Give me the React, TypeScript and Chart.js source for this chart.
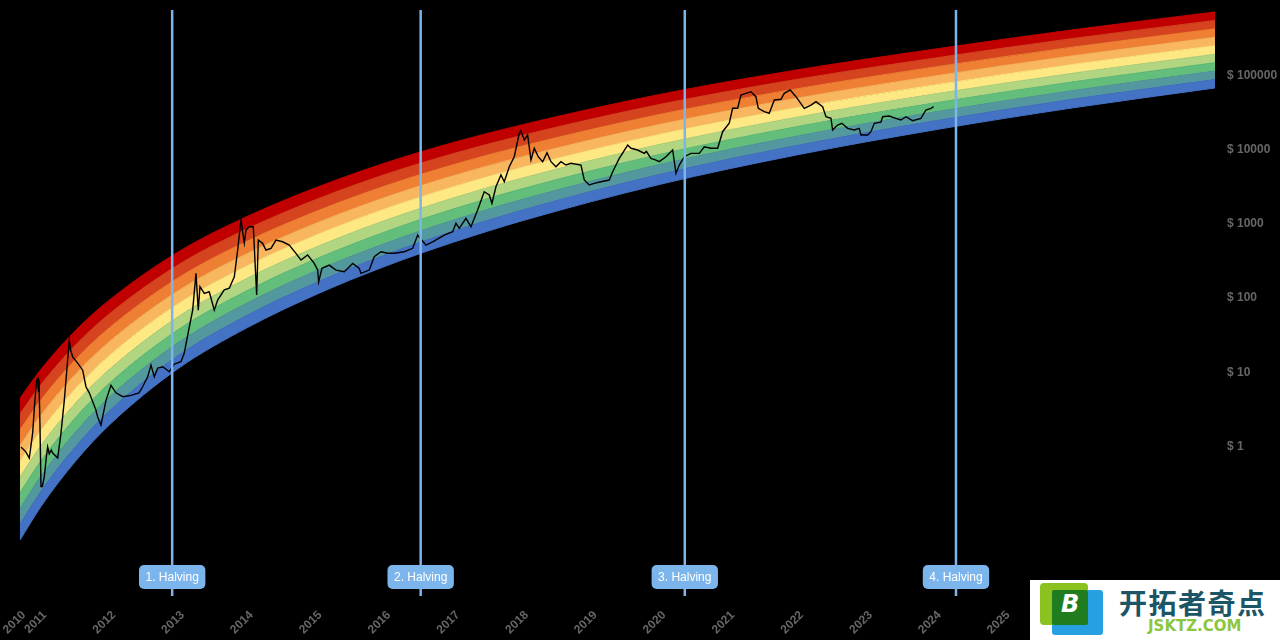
import React, { useEffect, useRef } from 'react';
import { Chart, registerables } from 'chart.js';

Chart.register(...registerables);

// ---- axes ----
const xMin = 2010.695;
const xMax = 2028.065;
const yMin = 0.0097;
const yMax = 763000;
const firstTickLabel = '2010';
const yearTicks = [2011, 2012, 2013, 2014, 2015, 2016, 2017, 2018, 2019, 2020, 2021, 2022, 2023, 2024, 2025, 2026, 2027];
const priceTicks = [1, 10, 100, 1000, 10000, 100000];

// ---- price (decimal year, USD) ----
const priceYears = [
  2010.709, 2010.78, 2010.83, 2010.879, 2010.905, 2010.938, 2010.956, 2010.963, 2010.971, 2010.985,
  2011.0, 2011.02, 2011.048, 2011.08, 2011.097, 2011.12, 2011.15, 2011.17, 2011.21, 2011.243,
  2011.291, 2011.339, 2011.38, 2011.411, 2011.43, 2011.461, 2011.533, 2011.606, 2011.654, 2011.702,
  2011.799, 2011.824, 2011.872, 2011.945, 2012.017, 2012.09, 2012.188, 2012.308, 2012.424, 2012.478,
  2012.551, 2012.599, 2012.647, 2012.696, 2012.769, 2012.865, 2012.938, 2013.035, 2013.083, 2013.156,
  2013.205, 2013.253, 2013.286, 2013.311, 2013.374, 2013.446, 2013.519, 2013.568, 2013.664, 2013.737,
  2013.81, 2013.859, 2013.907, 2013.955, 2013.98, 2014.028, 2014.086, 2014.115, 2014.135, 2014.159,
  2014.222, 2014.27, 2014.343, 2014.416, 2014.513, 2014.609, 2014.706, 2014.779, 2014.876, 2014.972,
  2015.022, 2015.036, 2015.084, 2015.19, 2015.288, 2015.408, 2015.531, 2015.626, 2015.651, 2015.772,
  2015.844, 2015.942, 2016.039, 2016.135, 2016.28, 2016.403, 2016.475, 2016.534, 2016.596, 2016.693,
  2016.862, 2016.984, 2017.032, 2017.08, 2017.177, 2017.25, 2017.347, 2017.443, 2017.516, 2017.555,
  2017.613, 2017.686, 2017.734, 2017.807, 2017.879, 2017.952, 2017.977, 2018.025, 2018.074, 2018.122,
  2018.17, 2018.228, 2018.292, 2018.355, 2018.413, 2018.485, 2018.558, 2018.631, 2018.703, 2018.849,
  2018.897, 2018.969, 2019.042, 2019.14, 2019.26, 2019.31, 2019.406, 2019.528, 2019.576, 2019.673,
  2019.769, 2019.8, 2019.866, 2019.93, 2019.987, 2020.085, 2020.182, 2020.23, 2020.278, 2020.351,
  2020.448, 2020.569, 2020.641, 2020.738, 2020.836, 2020.908, 2021.004, 2021.053, 2021.126, 2021.174,
  2021.247, 2021.32, 2021.392, 2021.426, 2021.513, 2021.586, 2021.659, 2021.756, 2021.804, 2021.891,
  2021.974, 2022.095, 2022.192, 2022.265, 2022.362, 2022.41, 2022.483, 2022.507, 2022.58, 2022.641,
  2022.725, 2022.821, 2022.894, 2022.919, 2023.016, 2023.064, 2023.113, 2023.209, 2023.234, 2023.33,
  2023.427, 2023.499, 2023.573, 2023.669, 2023.791, 2023.863, 2023.936, 2023.975,
];
const priceUsd = [
  0.99, 0.85, 0.7, 1.52, 3.5, 7.9, 8.4, 5.5, 8.0, 2.0,
  0.29, 0.29, 0.39, 0.75, 0.99, 0.8, 0.9, 0.82, 0.75, 0.7,
  1.52, 4.2, 12, 27.2, 20, 16.2, 13.3, 10.7, 6.4, 5.3,
  3.1, 2.5, 1.95, 4.2, 6.7, 5.3, 4.7, 4.9, 5.3, 6.4,
  8.7, 12.5, 8.7, 11.4, 11.9, 10.2, 12.9, 13.9, 18.2, 41,
  69, 216, 69, 143, 116, 122, 69, 94, 129, 136,
  194, 445, 1130, 553, 828, 917, 917, 265, 110, 607,
  548, 445, 469, 607, 575, 520, 402, 326, 381, 294,
  239, 166, 252, 279, 239, 227, 294, 252, 216, 239,
  361, 422, 402, 402, 422, 469, 708, 607, 520, 575,
  708, 785, 1019, 873, 1189, 917, 1538, 2715, 2454, 1895,
  3170, 4560, 3705, 5900, 8050, 16640, 18040, 13520, 15780, 7260,
  10450, 8050, 6890, 9120, 6890, 5900, 6890, 6220, 6560, 6220,
  3905, 3345, 3525, 3705, 3905, 5055, 7645, 11570, 10450, 9910,
  8940, 9500, 7645, 7300, 6900, 8050, 9910, 4810, 6220, 8050,
  8940, 8940, 10970, 10450, 10450, 17490, 22700, 36150, 36150, 54600,
  57500, 60530, 51800, 36150, 32530, 30960, 46770, 47790, 57500, 63780,
  51800, 36150, 40000, 44360, 38000, 27850, 26500, 18420, 21510, 22700,
  19410, 18420, 19410, 15780, 15780, 17490, 22700, 23500, 27850, 28470,
  26500, 25120, 27850, 24600, 26500, 34280, 36150, 38000,
];

// ---- rainbow envelope (decimal year, USD) ----
const rainbowYears = [2010.695, 2011, 2011.5, 2012, 2013, 2014, 2015, 2016, 2017, 2018, 2020, 2022, 2024, 2026, 2028.065];
const rainbowBottom = [0.055, 0.156, 0.632, 1.98, 11.35, 40.1, 112, 268, 569, 1107, 3420, 8550, 18580, 36640, 67920];
const rainbowTop = [4.51, 11.0, 36.6, 95.5, 423, 1265, 3090, 6610, 12560, 21780, 55720, 119400, 227500, 413000, 717800];
const bandColors = ['#4472C4', '#54989F', '#63BE7B', '#B1D580', '#FEE884', '#F8B65F', '#EF8033', '#D6441F', '#C00000'];

// ---- halvings ----
const halvingYears = [2012.907, 2016.519, 2020.358, 2024.3];
const halvingLabels = ['1. Halving', '2. Halving', '3. Halving', '4. Halving'];

const FONT = '"Liberation Sans", Arial, Helvetica, sans-serif';
const HALVING_COLOR = '#7cb5ec';

const halvingPlugin = {
  id: 'halvings',
  afterDatasetsDraw(chart: any) {
    const { ctx, chartArea, scales } = chart;
    const xs = scales.x;
    ctx.save();
    halvingYears.forEach((t, i) => {
      const x = xs.getPixelForValue(t);
      ctx.strokeStyle = HALVING_COLOR;
      ctx.lineWidth = 2.5;
      ctx.beginPath();
      ctx.moveTo(x, chartArea.top);
      ctx.lineTo(x, chartArea.bottom);
      ctx.stroke();

      ctx.font = '12px ' + FONT;
      const text = halvingLabels[i];
      const w = ctx.measureText(text).width + 13;
      const h = 24;
      const bx = x - w / 2;
      const by = chartArea.bottom - 31;
      ctx.fillStyle = HALVING_COLOR;
      ctx.beginPath();
      (ctx as any).roundRect(bx, by, w, h, 5);
      ctx.fill();
      ctx.fillStyle = '#ffffff';
      ctx.textAlign = 'center';
      ctx.textBaseline = 'middle';
      ctx.fillText(text, x, by + h / 2 + 0.5);
    });
    ctx.restore();
  },
};

function buildBandEdges() {
  const n = bandColors.length;
  const edges: { x: number; y: number }[][] = [];
  for (let k = 0; k <= n; k++) {
    edges.push(
      rainbowYears.map((t, i) => {
        const lb = Math.log10(rainbowBottom[i]);
        const lt = Math.log10(rainbowTop[i]);
        return { x: t, y: Math.pow(10, lb + (k / n) * (lt - lb)) };
      })
    );
  }
  return edges;
}

function Watermark() {
  return (
    <div
      style={{
        position: 'absolute',
        left: 1030,
        top: 580,
        width: 250,
        height: 60,
        background: '#ffffff',
        overflow: 'hidden',
      }}
    >
      <div style={{ position: 'absolute', left: 22, top: 10, width: 51, height: 45, background: '#27a0e2', borderRadius: 3 }} />
      <div style={{ position: 'absolute', left: 10, top: 3, width: 48, height: 42, background: '#8cc21f', borderRadius: 4 }} />
      <div style={{ position: 'absolute', left: 22, top: 10, width: 36, height: 35, background: '#1f7d1f', borderRadius: 2 }} />
      <div
        style={{
          position: 'absolute',
          left: 31,
          top: 11,
          fontFamily: '"DejaVu Sans", sans-serif',
          fontWeight: 700,
          fontStyle: 'italic',
          fontSize: 24,
          color: '#ffffff',
          lineHeight: '26px',
        }}
      >
        B
      </div>
      <div
        style={{
          position: 'absolute',
          left: 89,
          top: 5,
          fontFamily: '"Noto Sans CJK SC", sans-serif',
          fontWeight: 700,
          fontSize: 28,
          letterSpacing: 1.5,
          color: '#1b5566',
          lineHeight: '34px',
          whiteSpace: 'nowrap',
        }}
      >
        开拓者奇点
      </div>
      <div
        style={{
          position: 'absolute',
          left: 118,
          top: 37,
          fontFamily: '"DejaVu Sans", sans-serif',
          fontWeight: 700,
          fontSize: 15,
          letterSpacing: 0,
          color: '#8cc63f',
          lineHeight: '18px',
          whiteSpace: 'nowrap',
        }}
      >
        JSKTZ.COM
      </div>
    </div>
  );
}

export default function App() {
  const canvasRef = useRef<HTMLCanvasElement | null>(null);

  useEffect(() => {
    document.body.style.margin = '0';
    document.body.style.background = '#000';
    const canvas = canvasRef.current;
    if (!canvas) return;

    const edges = buildBandEdges();
    const bandDatasets = edges.map((data, k) => ({
      label: 'edge' + k,
      data,
      borderWidth: 1,
      borderColor: k === 0 ? bandColors[0] : bandColors[k - 1],
      backgroundColor: k === 0 ? 'rgba(0,0,0,0)' : bandColors[k - 1],
      pointRadius: 0,
      fill: k === 0 ? false : '-1',
      cubicInterpolationMode: 'monotone' as const,
    }));

    const chart = new Chart(canvas, {
      type: 'line',
      data: {
        datasets: [
          {
            label: 'price',
            data: priceYears.map((t, i) => ({ x: t, y: priceUsd[i] })),
            borderColor: '#000000',
            borderWidth: 1.4,
            pointRadius: 0,
            fill: false,
            tension: 0,
          },
          ...bandDatasets,
        ] as any,
      },
      options: {
        animation: false,
        responsive: true,
        maintainAspectRatio: false,
        events: [],
        layout: { padding: { left: 20, top: 10, right: 0, bottom: 0 } },
        plugins: {
          legend: { display: false },
          tooltip: { enabled: false },
        },
        scales: {
          x: {
            type: 'linear',
            min: xMin,
            max: xMax,
            grid: { display: false, drawTicks: false },
            border: { display: false },
            afterBuildTicks: (scale: any) => {
              scale.ticks = [xMin, ...yearTicks].map((v) => ({ value: v }));
            },
            afterFit: (scale: any) => {
              scale.height = 44;
              scale.paddingLeft = 0;
              scale.paddingRight = 0;
            },
            ticks: {
              autoSkip: false,
              maxRotation: 45,
              minRotation: 45,
              padding: 12,
              labelOffset: 4,
              color: '#666666',
              font: { family: FONT, size: 12, weight: 'bold' },
              callback: (v: any) => (v === xMin ? firstTickLabel : String(Math.round(Number(v)))),
            },
          },
          y: {
            type: 'logarithmic',
            position: 'right',
            min: yMin,
            max: yMax,
            grid: { display: false, drawTicks: false },
            border: { display: false },
            afterBuildTicks: (scale: any) => {
              scale.ticks = priceTicks.map((v) => ({ value: v }));
            },
            afterFit: (scale: any) => {
              scale.width = 65;
              scale.paddingTop = 0;
              scale.paddingBottom = 0;
            },
            ticks: {
              padding: 12,
              color: '#666666',
              font: { family: FONT, size: 12, weight: 'bold' },
              callback: (v: any) => '$ ' + String(v),
            },
          },
        },
      } as any,
      plugins: [halvingPlugin],
    });

    return () => chart.destroy();
  }, []);

  return (
    <div style={{ position: 'fixed', left: 0, top: 0, width: 1280, height: 640, background: '#000', overflow: 'hidden' }}>
      <canvas ref={canvasRef} style={{ display: 'block' }} />
      <Watermark />
    </div>
  );
}
